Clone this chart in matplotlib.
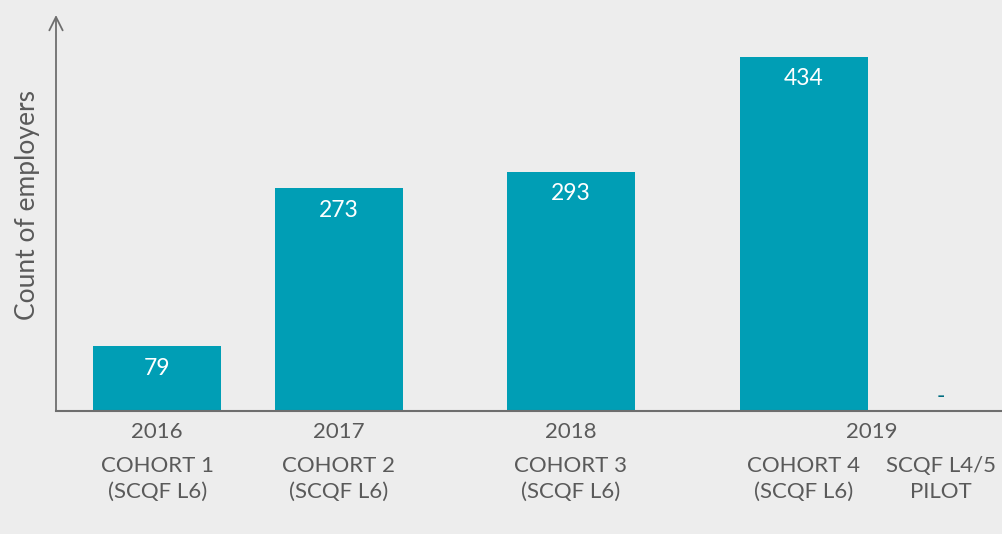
import matplotlib.pyplot as plt
import matplotlib.transforms as mtransforms

years = ['2016', '2017', '2018', '2019']
cohorts = ['COHORT 1', 'COHORT 2', 'COHORT 3', 'COHORT 4', 'SCQF L4/5']
levels = ['(SCQF L6)', '(SCQF L6)', '(SCQF L6)', '(SCQF L6)', 'PILOT']
employers = [79, 273, 293, 434, 0]
value_labels = ['79', '273', '293', '434', '-']

# layout (bar centres in bar-width units, years sit under their group)
pos = [0.79, 2.21, 4.02, 5.84, 6.91]
year_pos = [0.79, 2.21, 4.02, 6.375]

teal = '#009eb5'
grey = '#5a5a5a'
bg = '#ededed'

plt.rcParams['font.family'] = ['Lato', 'DejaVu Sans']

fig = plt.figure(figsize=(10.02, 5.34), dpi=100, facecolor=bg)
ax = fig.add_axes([56 / 1002, 123 / 534, 946 / 1002, 396 / 534])
ax.set_facecolor(bg)

ax.bar(pos, employers, width=1.0, color=teal)
ax.set_xlim(0, 7.39)
ax.set_ylim(0, 485)

for s in ax.spines.values():
    s.set_visible(False)
ax.set_xticks([])
ax.set_yticks([])

# axes lines
ax.axhline(0, color='#6e6e6e', lw=1.5, clip_on=False)
ax.annotate('', xy=(0, 1.0), xytext=(0, 0), xycoords='axes fraction',
            arrowprops=dict(arrowstyle='->', color='#6e6e6e', lw=1.3,
                            mutation_scale=24, shrinkA=0, shrinkB=0))

down = mtransforms.offset_copy(ax.transData, fig=fig, y=-16, units='points')
for x, v, lab in zip(pos, employers, value_labels):
    if v > 0:
        ax.text(x, v, lab, transform=down, ha='center', va='center',
                color='white', fontsize=16.5)
    else:
        ax.text(x, v, lab, ha='center', va='bottom', color='#006c80',
                fontsize=16.5, transform=mtransforms.offset_copy(
                    ax.transData, fig=fig, y=3, units='points'))

tb = mtransforms.blended_transform_factory(ax.transData, ax.transAxes)
for x, y in zip(year_pos, years):
    ax.text(x, -0.053, y, transform=tb, ha='center', va='center',
            color=grey, fontsize=16)
for x, c, l in zip(pos, cohorts, levels):
    ax.text(x, -0.139, c, transform=tb, ha='center', va='center',
            color=grey, fontsize=16)
    ax.text(x, -0.205, l, transform=tb, ha='center', va='center',
            color=grey, fontsize=16)

fig.text(28 / 1002, 1 - 205 / 534, 'Count of employers', rotation=90,
         ha='center', va='center', color=grey, fontsize=19)

fig.savefig('out.png', dpi=100, facecolor=bg)
